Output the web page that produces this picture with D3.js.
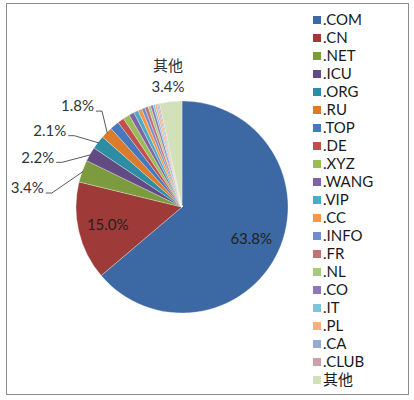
<!DOCTYPE html>
<html>
<head>
<meta charset="utf-8">
<script src="https://cdn.jsdelivr.net/npm/d3@7"></script>
<style>
  html, body { margin: 0; padding: 0; background: #fff; }
  svg { display: block; font-family: Lato, "Noto Sans CJK SC", sans-serif; }
</style>
</head>
<body>
<div id="chart"></div>
<script>
// domain share by TLD (%)
const categories = ['.COM', '.CN', '.NET', '.ICU', '.ORG', '.RU', '.TOP', '.DE', '.XYZ', '.WANG',
  '.VIP', '.CC', '.INFO', '.FR', '.NL', '.CO', '.IT', '.PL', '.CA', '.CLUB', '其他'];
const values = [63.8, 15.0, 3.4, 2.2, 2.1, 1.8, 1.4, 1.0, 1.0, 0.8,
  0.7, 0.6, 0.5, 0.5, 0.4, 0.4, 0.3, 0.3, 0.2, 0.2, 3.4];
const colors = ['#3c68a3', '#9e3b38', '#7c9a3e', '#624b82', '#2f8da3', '#db7c2c', '#4678bd', '#c0504d',
  '#9bbb59', '#8064a2', '#4bacc6', '#f79646', '#6f8ecb', '#c27277', '#a9c97c', '#8c78b5',
  '#7dc5d8', '#f9ae7e', '#96aad6', '#cba0a8', '#d3e1ba'];

// which slices get a label: inside ones sit on the centroid, outside ones get a leader line
const insideLabels = ['.COM', '.CN'];
const outsideLabels = ['.NET', '.ICU', '.ORG', '.RU'];
// angle (deg, clockwise from top) and radius factor for the outside labels
const outsideAngle = { '.NET': 277, '.ICU': 289, '.ORG': 300, '.RU': 314 };
const outsideRadius = { '.NET': 1.47, '.ICU': 1.44, '.ORG': 1.44, '.RU': 1.37 };

const width = 414, height = 400;
const cx = 182, cy = 207, r = 106;

const svg = d3.select('#chart')
  .append('svg')
  .attr('width', width)
  .attr('height', height);

// outer frame
svg.append('rect')
  .attr('x', 6.5).attr('y', 3.5)
  .attr('width', 402).attr('height', 391)
  .attr('fill', 'none')
  .attr('stroke', '#8c8c8c');

const data = categories.map((c, i) => ({ name: c, value: values[i], color: colors[i] }));

const pie = d3.pie().sort(null).value(d => d.value);
const arcs = pie(data);
const arc = d3.arc().innerRadius(0).outerRadius(r);

const g = svg.append('g').attr('transform', `translate(${cx},${cy})`);

g.selectAll('path.slice')
  .data(arcs)
  .enter().append('path')
  .attr('class', 'slice')
  .attr('d', arc)
  .attr('fill', d => d.data.color)
  .attr('stroke', '#fff')
  .attr('stroke-opacity', 0.6)
  .attr('stroke-width', 0.5);

const fmt = v => v.toFixed(1) + '%';
const polar = (deg, rad) => {
  const a = deg * Math.PI / 180;
  return [rad * Math.sin(a), -rad * Math.cos(a)];
};

const textColor = '#333';

// labels inside the two big slices
arcs.filter(d => insideLabels.includes(d.data.name)).forEach(d => {
  const mid = (d.startAngle + d.endAngle) / 2 * 180 / Math.PI;
  const p = polar(mid, r * 0.72);
  g.append('text')
    .attr('x', p[0]).attr('y', p[1])
    .attr('dy', '0.35em')
    .attr('text-anchor', 'middle')
    .attr('font-size', 15)
    .attr('fill', '#222')
    .text(fmt(d.data.value));
});

// outside labels with leader lines
arcs.filter(d => outsideLabels.includes(d.data.name)).forEach(d => {
  const name = d.data.name;
  const mid = (d.startAngle + d.endAngle) / 2 * 180 / Math.PI;
  const lp = polar(outsideAngle[name], r * outsideRadius[name]);
  const t = g.append('text')
    .attr('x', lp[0]).attr('y', lp[1])
    .attr('dy', '0.35em')
    .attr('text-anchor', 'middle')
    .attr('font-size', 15)
    .attr('fill', textColor)
    .text(fmt(d.data.value));
  const w = t.node().getComputedTextLength();
  const sx = lp[0] + w / 2 + 2, sy = lp[1] + 5;
  const ap = polar(mid, r - 1);
  g.append('polyline')
    .attr('points', [[sx, sy], [sx + 6, sy], ap].map(p => p.join(',')).join(' '))
    .attr('fill', 'none')
    .attr('stroke', '#595959')
    .attr('stroke-width', 1);
});

// label for 其他 above its slice
const last = arcs[arcs.length - 1];
const lastMid = (last.startAngle + last.endAngle) / 2 * 180 / Math.PI;
const op = polar(lastMid, r * 1.24);
const ot = g.append('text')
  .attr('text-anchor', 'middle')
  .attr('font-size', 15)
  .attr('fill', textColor);
ot.append('tspan').attr('x', op[0]).attr('y', op[1] - 5).text(last.data.name);
ot.append('tspan').attr('x', op[0]).attr('y', op[1] + 16).text(fmt(last.data.value));

// legend
const legend = svg.append('g')
  .selectAll('g')
  .data(data)
  .enter().append('g')
  .attr('transform', (d, i) => `translate(313,${20 + i * 18})`);

legend.append('rect')
  .attr('x', 0).attr('y', -4)
  .attr('width', 8).attr('height', 8)
  .attr('fill', d => d.color);

legend.append('text')
  .attr('x', 10)
  .attr('dy', '0.36em')
  .attr('font-size', 15)
  .attr('fill', '#1a1a1a')
  .text(d => d.name);
</script>
</body>
</html>
